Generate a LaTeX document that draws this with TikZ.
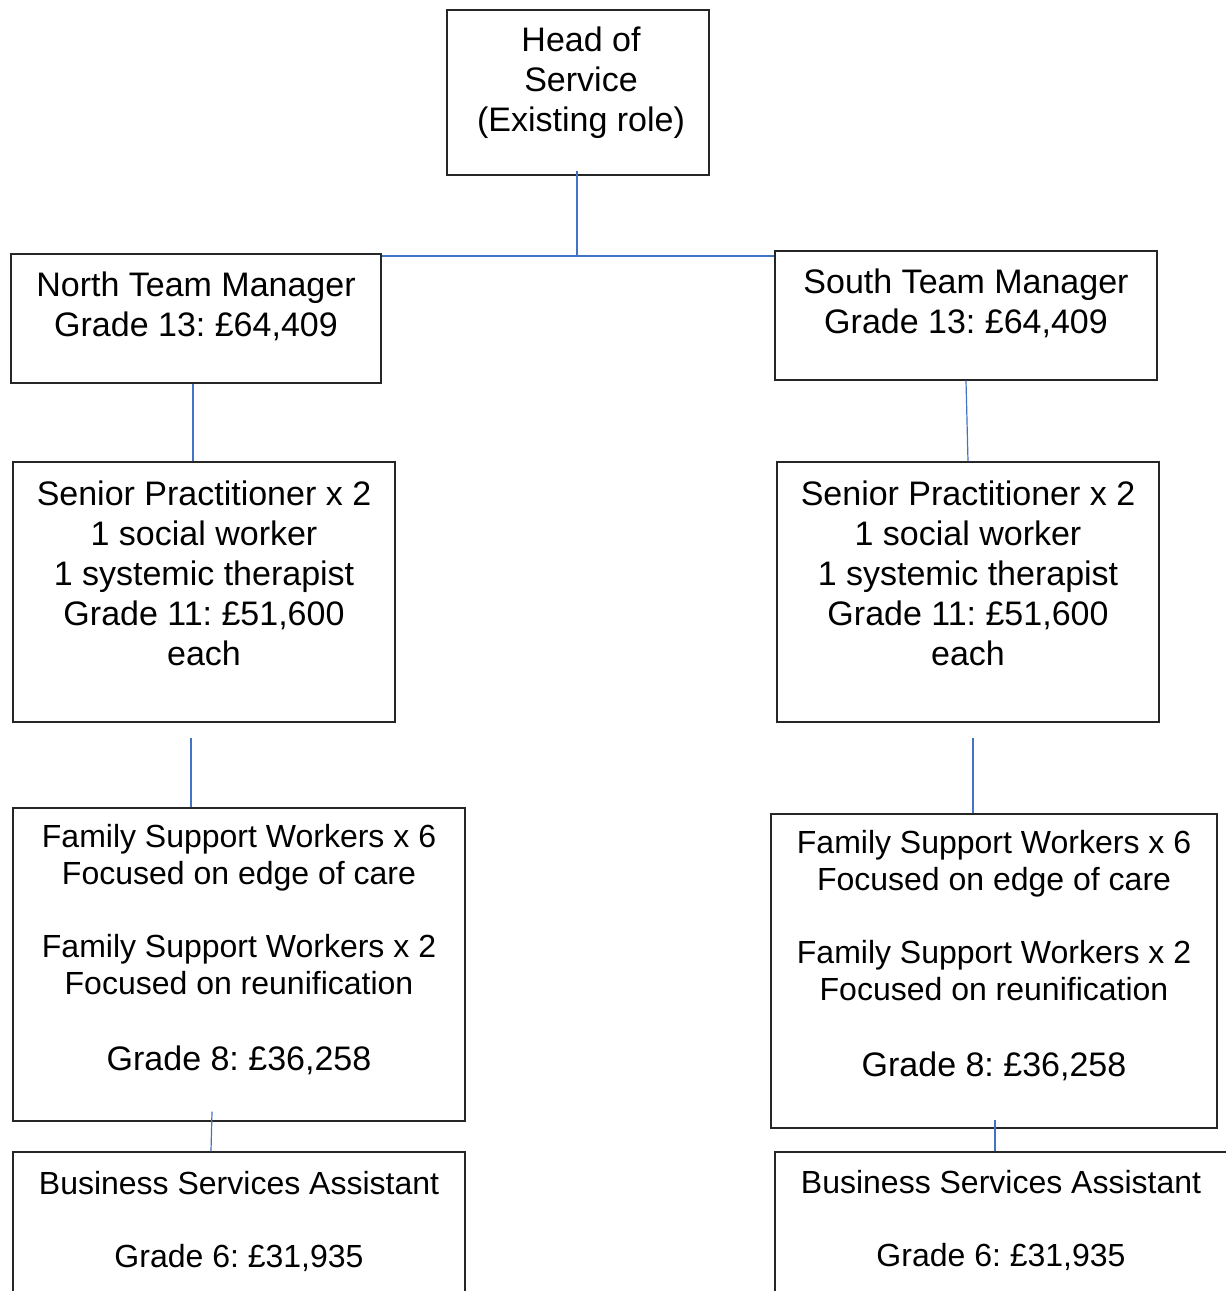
\documentclass[tikz,border=0pt]{standalone}
\usepackage{fontspec}
\setmainfont{Liberation Sans}
\usepackage{xcolor}
\usetikzlibrary{positioning}
\definecolor{linkblue}{HTML}{4472C4}
\frenchspacing

\begin{document}
\begin{tikzpicture}[x=1pt,y=-1pt,
  post/.style={draw=black!85,line width=1.4pt,inner sep=0pt},
  big/.style={font=\fontsize{34}{40}\selectfont,align=center,inner sep=0pt},
  small/.style={font=\fontsize{32}{36.5}\selectfont,align=center,inner sep=0pt},
  link/.style={draw=linkblue,line width=1.2pt}]
\useasboundingbox (0,0) rectangle (1226,1291);
\clip (0,0) rectangle (1226,1291);

%head
\node[post,minimum width=262,minimum height=165] (nhead) at (578,92.5) {};
\node[big,below=17pt of nhead.north,xshift=3pt] (thead) {Head of\\Service\\(Existing role)};

%team managers
\node[post,minimum width=370,minimum height=129] (ntm) at (196,318.5) {};
\node[big,below=18pt of ntm.north] (tntm) {North Team Manager\\Grade 13: £64,409};
\node[post,minimum width=382,minimum height=129] (stm) at (966,315.5) {};
\node[big,below=18pt of stm.north] (tstm) {South Team Manager\\Grade 13: £64,409};

%senior practitioners
\node[post,minimum width=382,minimum height=260] (nsp) at (204,592) {};
\node[big,below=19pt of nsp.north] (tnsp) {Senior Practitioner x 2\\1 social worker\\1 systemic therapist\\Grade 11: £51,600\\each};
\node[post,minimum width=382,minimum height=260] (ssp) at (968,592) {};
\node[big,below=19pt of ssp.north] (tssp) {Senior Practitioner x 2\\1 social worker\\1 systemic therapist\\Grade 11: £51,600\\each};

%family support workers
\node[post,minimum width=452,minimum height=313] (nfsw) at (239,964.5) {};
\node[small,below=17pt of nfsw.north] (tnfsw) {Family Support Workers x 6\\Focused on edge of care\\[37pt]Family Support Workers x 2\\Focused on reunification\\[40pt]{\fontsize{34}{40}\selectfont Grade 8: £36,258}};
\node[post,minimum width=446,minimum height=314] (sfsw) at (994,971) {};
\node[small,below=17pt of sfsw.north] (tsfsw) {Family Support Workers x 6\\Focused on edge of care\\[37pt]Family Support Workers x 2\\Focused on reunification\\[40pt]{\fontsize{34}{40}\selectfont Grade 8: £36,258}};

%business services
\node[post,minimum width=452,minimum height=200] (nbsa) at (239,1252) {};
\node[small,below=20pt of nbsa.north] (tnbsa) {Business Services Assistant\\[36.5pt]Grade 6: £31,935};
\node[post,minimum width=452,minimum height=200] (sbsa) at (1001,1252) {};
\node[small,below=19pt of sbsa.north] (tsbsa) {Business Services Assistant\\[36.5pt]Grade 6: £31,935};

%connectors
\coordinate (hub) at (577,256);
\draw[link] ([xshift=-1pt,yshift=5pt]nhead.south) -- (hub);
\draw[link] (ntm.east |- hub) -- (stm.west |- hub);
\draw[link] ([xshift=-3pt]ntm.south) -- ([xshift=-11pt]nsp.north);
\draw[link] (stm.south) -- (ssp.north);
\draw[link] ([xshift=-13pt,yshift=-15pt]nsp.south) -- ([xshift=-48pt]nfsw.north);
\draw[link] ([xshift=5pt,yshift=-15pt]ssp.south) -- ([xshift=-21pt]sfsw.north);
\draw[link] ([xshift=-27pt,yshift=10pt]nfsw.south) -- ([xshift=-28pt]nbsa.north);
\draw[link] ([xshift=1pt,yshift=9pt]sfsw.south) -- ([xshift=-6pt]sbsa.north);
\end{tikzpicture}
\end{document}
